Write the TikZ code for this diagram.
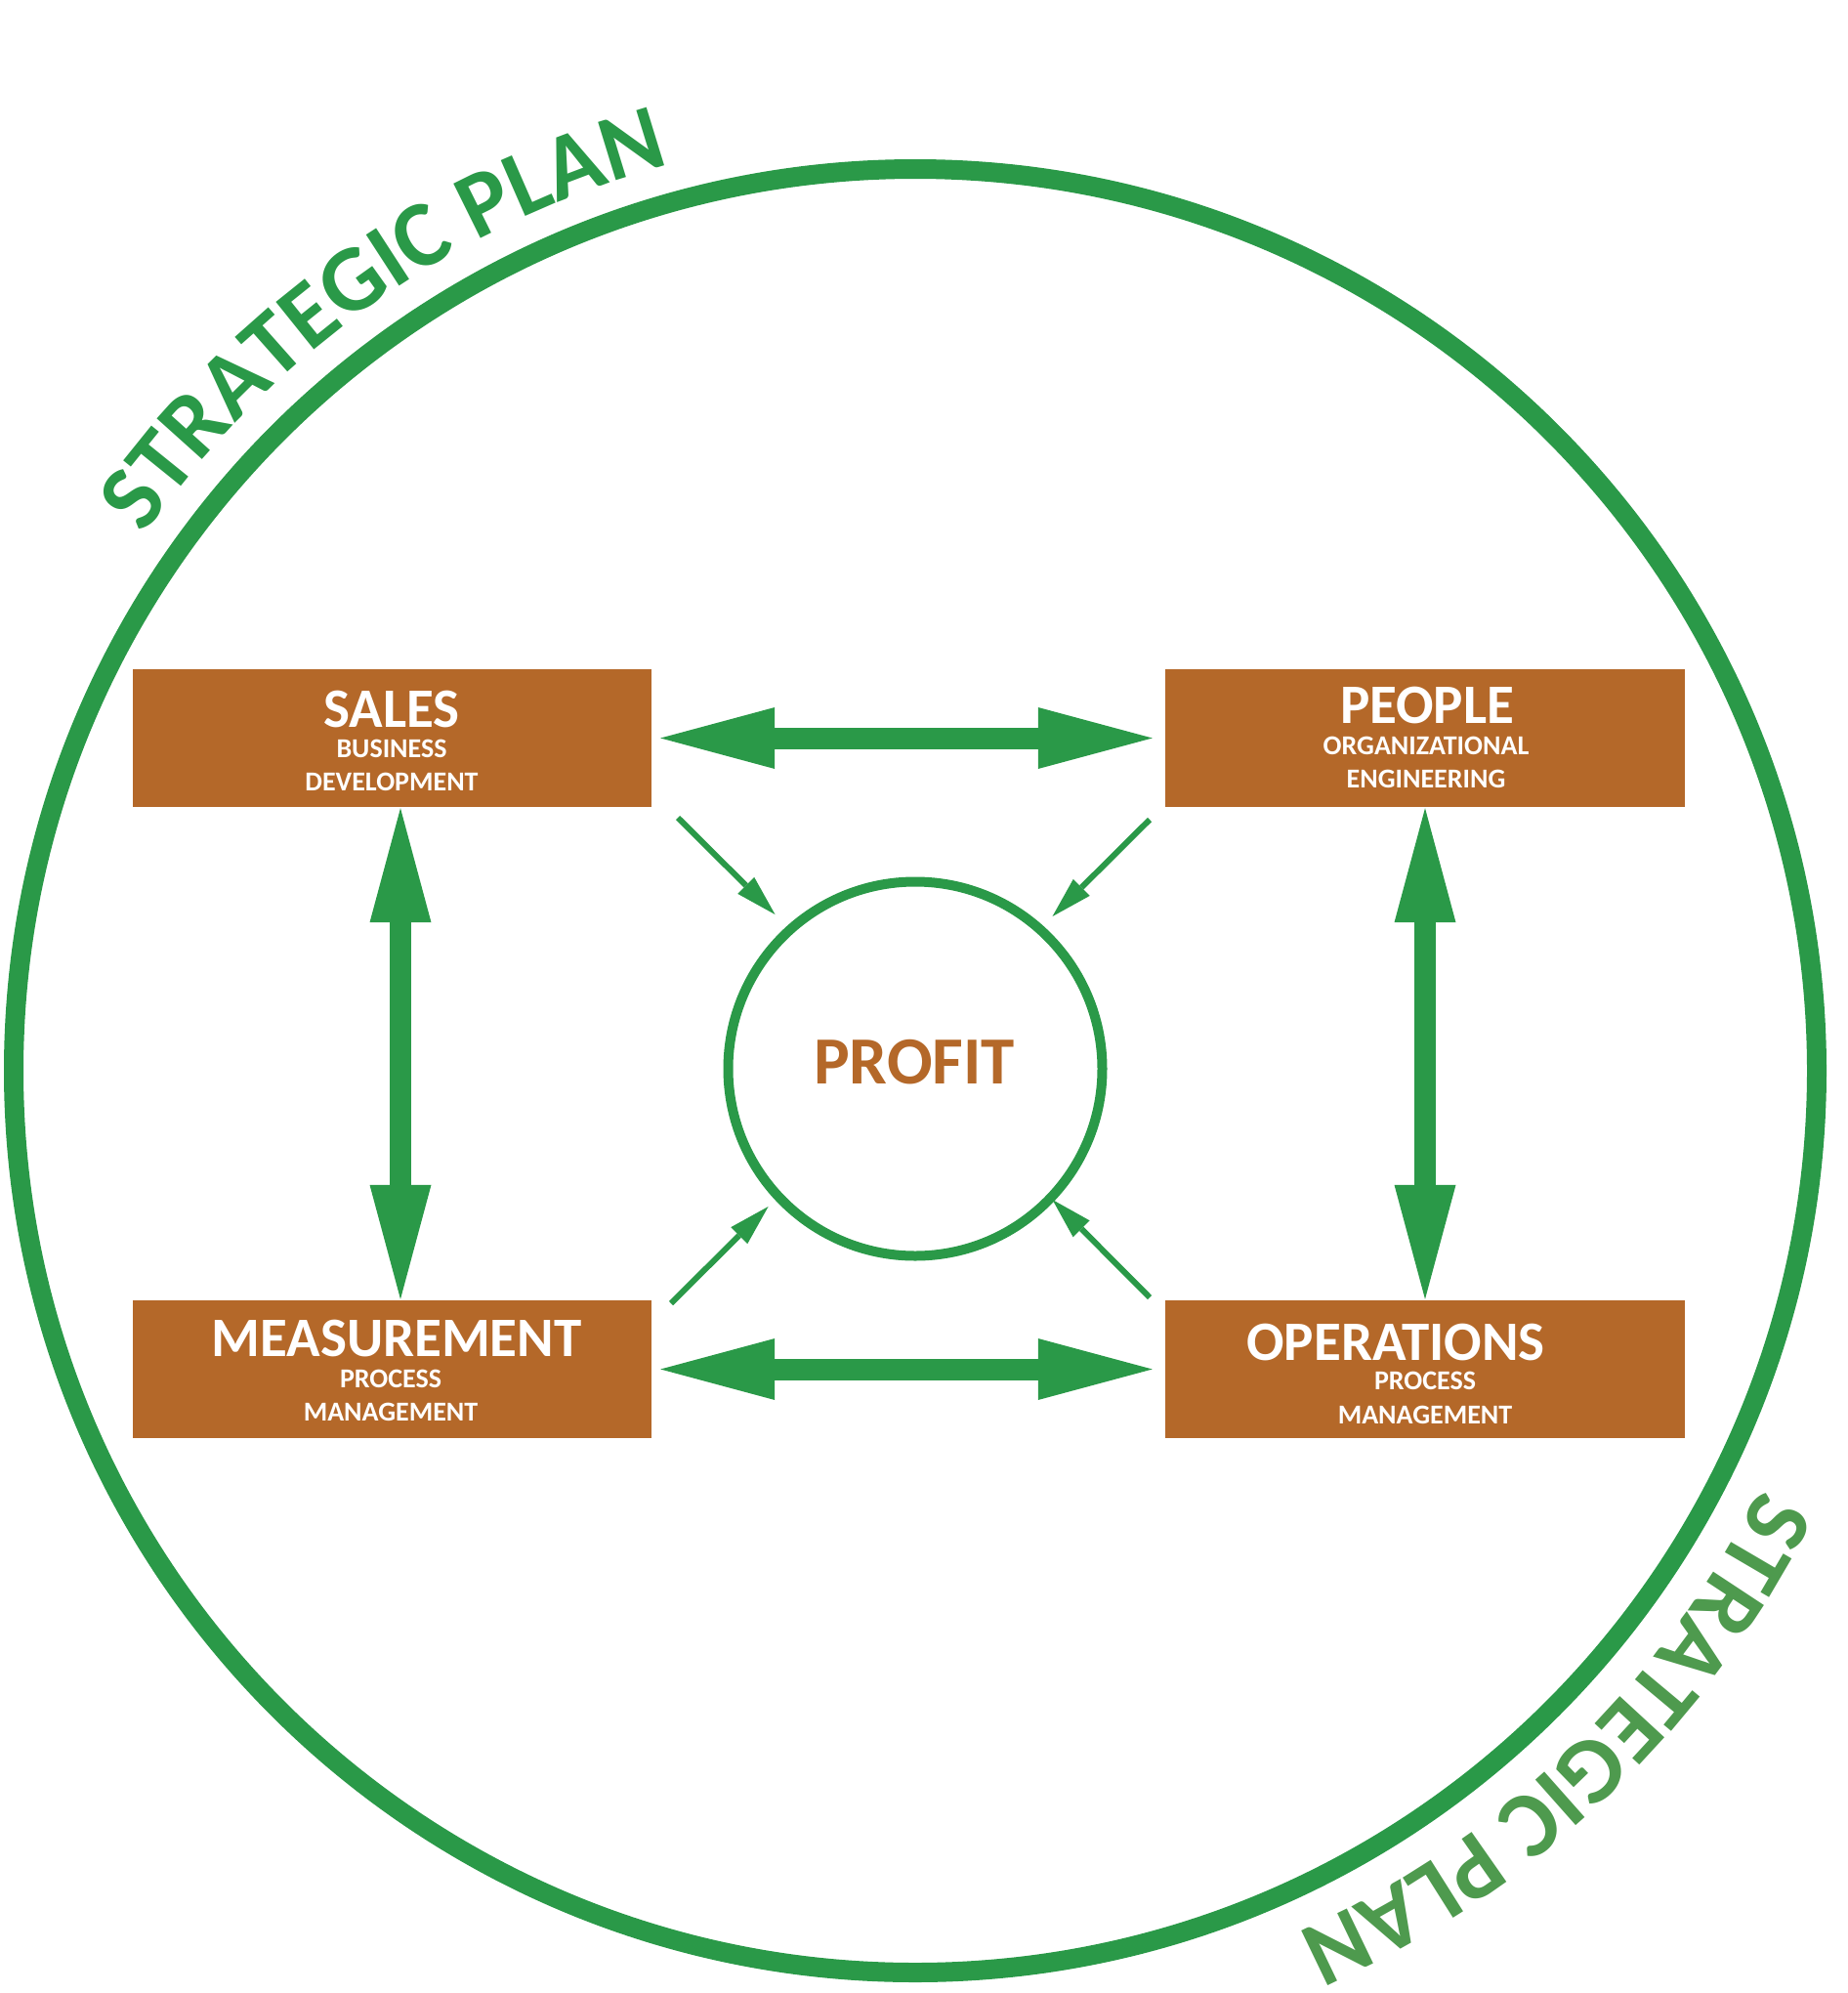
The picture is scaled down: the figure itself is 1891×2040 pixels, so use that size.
\documentclass[tikz,border=0pt]{standalone}
\usepackage{fontspec}
\setmainfont{Carlito}
\usetikzlibrary{arrows.meta,decorations.text}
\definecolor{sgreen}{RGB}{42,153,72}
\definecolor{tgreen}{RGB}{78,154,78}
\definecolor{sbrown}{RGB}{180,104,41}
\newcommand{\myarcfont}{\bfseries\fontsize{96}{96}\selectfont}
\begin{document}
\begin{tikzpicture}[x=1pt,y=1pt,
  box/.style={fill=sbrown, draw=none, minimum width=531pt, minimum height=141pt, inner sep=0pt},
  ttl/.style={text=white, font=\bfseries\fontsize{57}{57}\selectfont, anchor=base, inner sep=0pt},
  sub/.style={text=white, font=\bfseries\fontsize{28}{28}\selectfont, anchor=base, inner sep=0pt},
  bigarrow/.style={draw=sgreen, line width=22pt,
    {Triangle[length=117pt, width=63pt, line width=0pt, fill=sgreen]}-{Triangle[length=117pt, width=63pt, line width=0pt, fill=sgreen]}},
  smallarrow/.style={draw=sgreen, line width=6pt,
    -{Triangle[length=42pt, width=24pt, line width=0pt, fill=sgreen]}},
  arctext/.style={decorate, decoration={text along path, text align=center, text color=#1,
    text={|\myarcfont|STRATEGIC PLAN}}}
]
\useasboundingbox (0,0) rectangle (1891,-2040);

% outer circle
\node[circle, draw=sgreen, line width=20pt, minimum size=1846pt, inner sep=0pt] (plan) at (937,-1096) {};

% arc texts
\path[arctext=sgreen] (plan.center) ++(160.2:961pt) arc[start angle=160.2, end angle=90.2, radius=961pt];
\path[arctext=tgreen] (plan.center) ++(348.8:965pt) arc[start angle=348.8, end angle=278.8, radius=965pt];

% profit circle
\node[circle, draw=sgreen, line width=10pt, minimum size=383pt, inner sep=0pt] (profit) at (937,-1094) {};
\node[anchor=base, inner sep=0pt, text=sbrown, font=\bfseries\fontsize{69}{69}\selectfont] (profitT) at (936,-1109) {PROFIT};

% boxes
\node[box] (sales) at (401.5,-755.5) {};
\node[box, minimum width=532pt] (people) at (1459,-755.5) {};
\node[box] (meas) at (401.5,-1401.5) {};
\node[box, minimum width=532pt] (ops) at (1459,-1401.5) {};

% box texts
\node[ttl] (salesT) at (401,-744) {SALES};
\node[sub] (salesS1) at (401,-775) {BUSINESS};
\node[sub] (salesS2) at (401,-809) {DEVELOPMENT};

\node[ttl] (peopleT) at (1461,-740) {PEOPLE};
\node[sub] (peopleS1) at (1460,-772) {ORGANIZATIONAL};
\node[sub] (peopleS2) at (1460,-806) {ENGINEERING};

\node[ttl] (measT) at (406,-1388) {MEASUREMENT};
\node[sub] (measS1) at (400,-1420) {PROCESS};
\node[sub] (measS2) at (400,-1454) {MANAGEMENT};

\node[ttl] (opsT) at (1429,-1392) {OPERATIONS};
\node[sub] (opsS1) at (1459,-1422) {PROCESS};
\node[sub] (opsS2) at (1459,-1457) {MANAGEMENT};

% big double arrows
\draw[bigarrow, shorten <=9pt, shorten >=13pt] (sales.east) -- (people.west);
\draw[bigarrow, shorten <=9pt, shorten >=13pt] (meas.east) -- (ops.west);
\draw[bigarrow, shorten <=1pt, shorten >=1pt] ([xshift=8.5pt]sales.south) -- ([xshift=8.5pt]meas.north);
\draw[bigarrow, shorten <=1pt, shorten >=1pt] (people.south) -- (ops.north);

% small arrows to profit
\coordinate (tlA) at (694,-837);
\coordinate (tlB) at (793.5,-936);
\coordinate (trA) at (1177,-839);
\coordinate (trB) at (1077.5,-938);
\coordinate (blA) at (687,-1334);
\coordinate (blB) at (786.6,-1235);
\coordinate (brA) at (1177,-1328);
\coordinate (brB) at (1077.5,-1228);
\draw[smallarrow] (tlA) -- (tlB);
\draw[smallarrow] (trA) -- (trB);
\draw[smallarrow] (blA) -- (blB);
\draw[smallarrow] (brA) -- (brB);
\end{tikzpicture}
\end{document}
